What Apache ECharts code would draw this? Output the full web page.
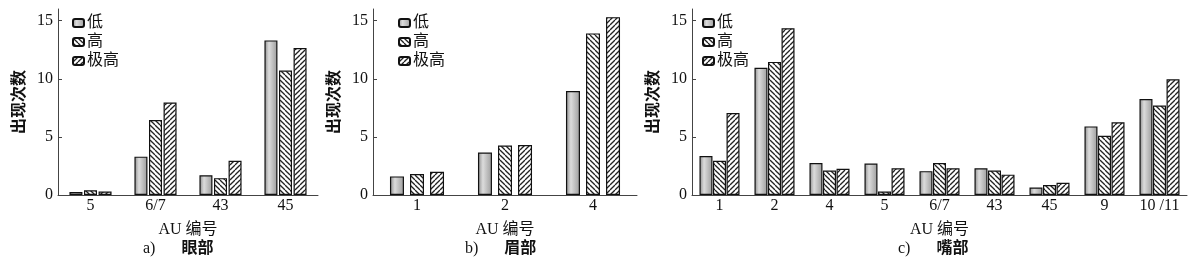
<!DOCTYPE html>
<html><head><meta charset="utf-8">
<script src="https://cdn.jsdelivr.net/npm/echarts@6/dist/echarts.min.js"></script>
<style>html,body{margin:0;padding:0;background:#fff}#c{width:1200px;height:272px}</style>
</head><body><div id="c"></div>
<script>
// ---- data ----
const seriesNames = ['低', '高', '极高'];
const categoriesA = ['5', '6/7', '43', '45'];
const lowA   = [0.25, 3.3, 1.7, 13.3];
const highA  = [0.4, 6.45, 1.45, 10.7];
const vhighA = [0.3, 7.95, 2.95, 12.65];
const categoriesB = ['1', '2', '4'];
const lowB   = [1.6, 3.65, 8.95];
const highB  = [1.8, 4.25, 13.9];
const vhighB = [2.0, 4.3, 15.3];
const categoriesC = ['1', '2', '4', '5', '6/7', '43', '45', '9', '10 /11'];
const lowC   = [3.35, 10.95, 2.75, 2.7, 2.05, 2.3, 0.65, 5.9, 8.25];
const highC  = [2.95, 11.45, 2.1, 0.3, 2.75, 2.1, 0.85, 5.1, 7.7];
const vhighC = [7.05, 14.35, 2.25, 2.3, 2.3, 1.75, 1.05, 6.25, 9.95];
const xAxisName = 'AU 编号';
const yAxisName = '出现次数';
const captionLetters = ['a)', 'b)', 'c)'];
const captionNames = ['眼部', '眉部', '嘴部'];

// ---- styles ----
function hatch(dir) {
  const s = 5;
  const cv = document.createElement('canvas');
  cv.width = s; cv.height = s;
  const ctx = cv.getContext('2d');
  ctx.fillStyle = '#fff'; ctx.fillRect(0, 0, s, s);
  ctx.strokeStyle = '#222'; ctx.lineWidth = 1.3;
  for (let k = -1; k <= 1; k++) {
    ctx.beginPath();
    if (dir === 'back') { ctx.moveTo(k * s, 0); ctx.lineTo(k * s + s, s); }
    else { ctx.moveTo(k * s, s); ctx.lineTo(k * s + s, 0); }
    ctx.stroke();
  }
  return { image: cv, repeat: 'repeat' };
}
const lowFill = new echarts.graphic.LinearGradient(0, 0, 1, 0, [
  { offset: 0, color: '#8c8c8c' }, { offset: 0.35, color: '#dcdcdc' }, { offset: 1, color: '#9c9c9c' }]);
const fills = [lowFill, hatch('back'), hatch('fwd')];

const FONT = '"Liberation Serif", "Noto Sans CJK SC", serif';
const grids = [
  { left: 58, width: 260, top: 9, height: 186 },
  { left: 373, width: 264, top: 9, height: 186 },
  { left: 692, width: 495, top: 9, height: 186 }
];
const barW = [13, 14, 13];
const gaps = ['12%', '43%', '4%'];
const cats = [categoriesA, categoriesB, categoriesC];
const vals = [[lowA, highA, vhighA], [lowB, highB, vhighB], [lowC, highC, vhighC]];
const legendPos = [[72, 15], [398, 15], [702, 15]];
const capX = [183, 505, 938];

const xAxis = [], yAxis = [], series = [], legend = [], graphic = [];
for (let g = 0; g < 3; g++) {
  xAxis.push({
    type: 'category', gridIndex: g, data: cats[g],
    axisLine: { lineStyle: { color: '#444', width: 1 } },
    axisTick: { show: false },
    axisLabel: { color: '#111', fontFamily: FONT, fontSize: 16, margin: 3 },
    name: xAxisName, nameLocation: 'middle', nameGap: 27,
    nameTextStyle: { color: '#111', fontFamily: FONT, fontSize: 16 }
  });
  yAxis.push({
    type: 'value', gridIndex: g, min: 0, max: 16, interval: 5,
    splitLine: { show: false },
    axisLine: { show: true, lineStyle: { color: '#444', width: 1 } },
    axisTick: { show: true, inside: true, length: 4, lineStyle: { color: '#444' } },
    axisLabel: { color: '#111', fontFamily: FONT, fontSize: 16, margin: 5, showMaxLabel: false },
    name: yAxisName, nameLocation: 'middle', nameGap: 30, nameRotate: 90,
    nameTextStyle: { color: '#111', fontFamily: FONT, fontSize: 16, fontWeight: 'bold' }
  });
  for (let s = 0; s < 3; s++) {
    series.push({
      type: 'bar', name: seriesNames[s], xAxisIndex: g, yAxisIndex: g,
      data: vals[g][s], barWidth: barW[g], barGap: gaps[g],
      itemStyle: { color: fills[s], borderColor: '#111', borderWidth: 1.2 },
      animation: false
    });
  }
  legend.push({
    data: seriesNames, orient: 'vertical', left: legendPos[g][0], top: legendPos[g][1],
    itemWidth: 11, itemHeight: 8, itemGap: 3, icon: 'roundRect',
    textStyle: { color: '#111', fontFamily: FONT, fontSize: 16, padding: [0, 0, 0, -2] },
    padding: 0, selectedMode: false
  });
  graphic.push({
    type: 'text', left: capX[g] - 40, top: 241,
    style: {
      text: '{a|' + captionLetters[g] + '}{g|}{b|' + captionNames[g] + '}',
      rich: {
        a: { fill: '#111', fontFamily: FONT, fontSize: 16 },
        g: { width: 26 },
        b: { fill: '#111', fontFamily: FONT, fontSize: 16, fontWeight: 'bold' }
      }
    }
  });
}

const chart = echarts.init(document.getElementById('c'));
chart.setOption({
  backgroundColor: '#fff', animation: false,
  grid: grids, xAxis, yAxis, series, legend, graphic
});
</script></body></html>
